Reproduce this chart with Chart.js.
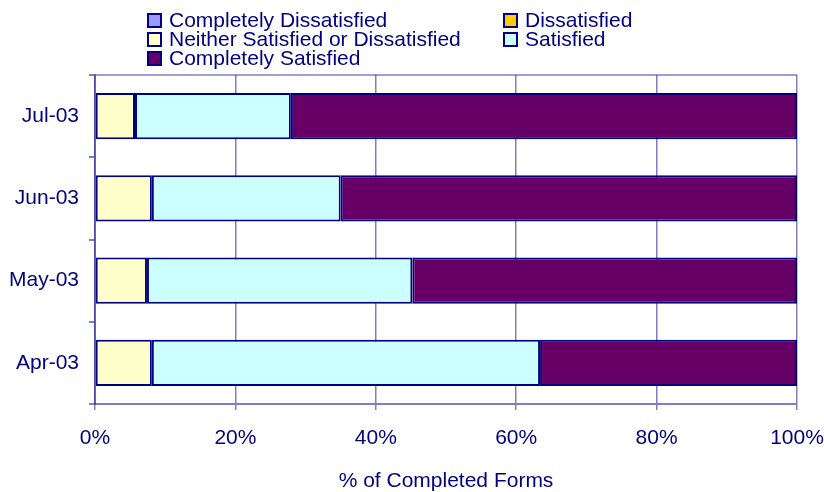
<!DOCTYPE html>
<html>
<head>
<meta charset="utf-8">
<script src="https://cdn.jsdelivr.net/npm/chart.js@4"></script>
<style>
  html, body { margin: 0; padding: 0; background: #fff; }
  #wrap { position: relative; width: 824px; height: 492px; }
  #legend { position: absolute; left: 0; top: 0; width: 824px; height: 72px;
            font-family: "Liberation Sans", Arial, sans-serif; font-size: 21px; color: #000080; }
  .item { position: absolute; height: 20px; line-height: 20px; white-space: nowrap; }
  .box { position: absolute; left: 0; top: 3px; width: 11px; height: 11px; border: 2px solid #000080; }
  .lbl { position: absolute; left: 22px; top: 0; }
</style>
</head>
<body>
<div id="wrap">
  <canvas id="c" width="824" height="492"></canvas>
  <div id="legend"></div>
</div>
<script>
const categories = ['Jul-03', 'Jun-03', 'May-03', 'Apr-03'];
const seriesNames = ['Completely Dissatisfied', 'Dissatisfied', 'Neither Satisfied or Dissatisfied', 'Satisfied', 'Completely Satisfied'];
const completelyDissatisfied = [0, 0, 0, 0];
const dissatisfied = [0, 0, 0, 0];
const neither = [5.7, 8.1, 7.4, 8.1];
const satisfied = [22.2, 26.9, 37.8, 55.3];
const completelySatisfied = [72.1, 65.0, 54.8, 36.6];
const xTicks = [0, 20, 40, 60, 80, 100];
const seriesColors = ['#9999FF', '#FFCC00', '#FFFFCC', '#CCFFFF', '#660066'];
const seriesValues = [completelyDissatisfied, dissatisfied, neither, satisfied, completelySatisfied];

// HTML legend
const legendPos = [[147, 10], [503, 10], [147, 29], [503, 29], [147, 48]];
const legendEl = document.getElementById('legend');
seriesNames.forEach((n, i) => {
  const d = document.createElement('div');
  d.className = 'item';
  d.style.left = legendPos[i][0] + 'px';
  d.style.top = legendPos[i][1] + 'px';
  d.innerHTML = '<span class="box" style="background:' + seriesColors[i] + '"></span><span class="lbl"></span>';
  d.querySelector('.lbl').textContent = n;
  legendEl.appendChild(d);
});

const navy = '#000080';
const gridCol = 'rgba(40,40,150,0.6)';
const FONT = { family: '"Liberation Sans", Arial, sans-serif', size: 21 };

const topBorder = {
  id: 'topBorder',
  afterDraw(chart) {
    const a = chart.chartArea, ctx = chart.ctx;
    ctx.save();
    ctx.strokeStyle = gridCol;
    ctx.lineWidth = 1.5;
    ctx.beginPath();
    ctx.moveTo(a.left, a.top);
    ctx.lineTo(a.right, a.top);
    ctx.stroke();
    ctx.restore();
  }
};

new Chart(document.getElementById('c'), {
  type: 'bar',
  data: {
    labels: categories,
    datasets: seriesNames.map((n, i) => ({
      label: n,
      data: seriesValues[i],
      backgroundColor: seriesColors[i],
      borderColor: navy,
      borderWidth: 2,
      borderSkipped: false,
      barPercentage: 0.56,
      categoryPercentage: 1.0
    }))
  },
  options: {
    indexAxis: 'y',
    responsive: false,
    animation: false,
    layout: { padding: { top: 75, right: 27, bottom: 0, left: 0 } },
    plugins: { legend: { display: false }, tooltip: { enabled: false } },
    scales: {
      x: {
        stacked: true,
        min: 0, max: 100,
        afterBuildTicks(scale) { scale.ticks = xTicks.map(v => ({ value: v })); },
        afterFit(scale) { scale.height = 88; scale.paddingLeft = 0; scale.paddingRight = 0; },
        grid: { color: gridCol, lineWidth: 1.5, tickLength: 6, drawTicks: true, tickColor: gridCol },
        border: { display: true, color: gridCol, width: 2 },
        ticks: { color: navy, font: FONT, padding: 16, callback: v => v + '%', maxRotation: 0 },
        title: { display: true, text: '% of Completed Forms', color: navy, font: FONT, padding: { top: 0, bottom: -2 } }
      },
      y: {
        stacked: true,
        afterFit(scale) { scale.width = 95; scale.paddingTop = 0; scale.paddingBottom = 0; },
        grid: { drawOnChartArea: false, drawTicks: true, tickLength: 6, color: gridCol, lineWidth: 2, offset: true },
        border: { display: true, color: gridCol, width: 2 },
        ticks: { color: navy, font: FONT, padding: 10 }
      }
    }
  },
  plugins: [topBorder]
});
</script>
</body>
</html>
